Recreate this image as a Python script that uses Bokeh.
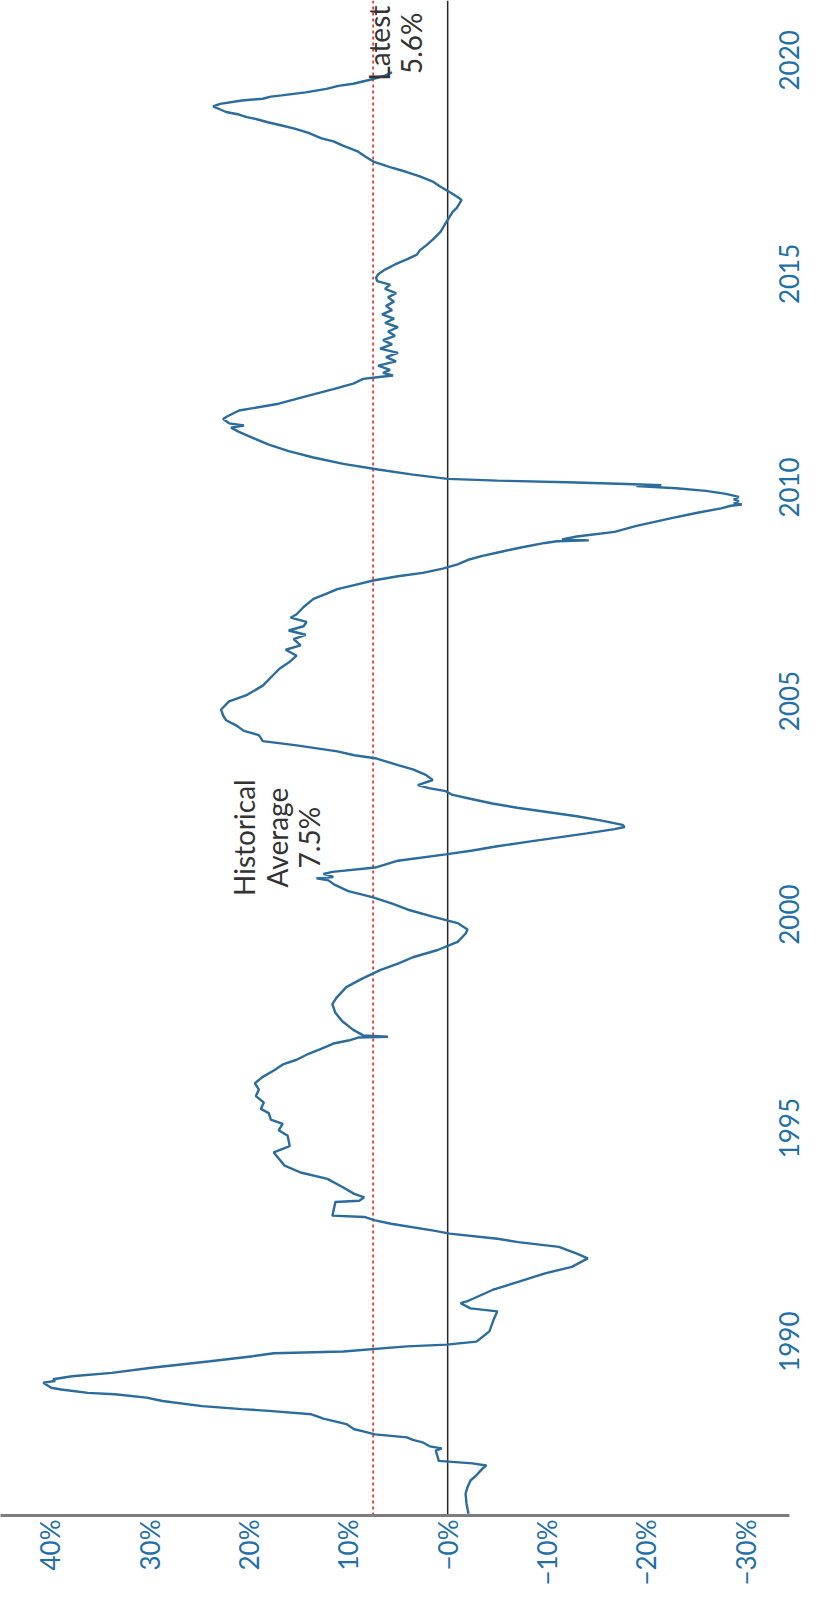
import math
from bokeh.plotting import figure
from bokeh.models import Range1d, Span, FixedTicker
from bokeh.core.properties import value
from bokeh.embed import file_html
from bokeh.resources import INLINE

# ---- data (decimal year, % value) ----
years = [
    1985.97, 1986.20, 1986.44, 1986.60, 1986.75, 1986.85, 1986.95, 1987.05, 1987.10, 1987.15,
    1987.21, 1987.30, 1987.45, 1987.50, 1987.55, 1987.64, 1987.70, 1987.76, 1987.83, 1987.90,
    1987.95, 1988.07, 1988.20, 1988.30, 1988.38, 1988.42, 1988.49, 1988.61, 1988.69, 1988.77,
    1988.80, 1988.88, 1988.92, 1989.04, 1989.08, 1989.12, 1989.19, 1989.27, 1989.39, 1989.54,
    1989.66, 1989.73, 1989.77, 1989.89, 1989.93, 1990.00, 1990.24, 1990.50, 1990.71, 1990.78,
    1990.90, 1990.95, 1991.01, 1991.21, 1991.40, 1991.60, 1991.75, 1991.95, 1992.06, 1992.22,
    1992.33, 1992.41, 1992.53, 1992.60, 1992.76, 1992.84, 1992.92, 1992.95, 1993.27, 1993.30,
    1993.38, 1993.46, 1993.61, 1993.81, 1993.96, 1994.12, 1994.43, 1994.58, 1994.82,
    1994.95, 1995.10, 1995.20, 1995.35, 1995.45, 1995.60, 1995.75, 1995.90, 1996.05, 1996.20,
    1996.35, 1996.50, 1996.60, 1996.74, 1996.85, 1996.98, 1997.05, 1997.12, 1997.14, 1997.17,
    1997.30, 1997.50, 1997.70, 1997.90, 1998.05, 1998.30, 1998.50, 1998.70, 1998.85, 1999.00,
    1999.17, 1999.36, 1999.55, 1999.65, 1999.80, 1999.95, 2000.10, 2000.25, 2000.40, 2000.55,
    2000.70, 2000.80, 2000.85, 2000.88, 2000.95, 2001.00, 2001.10, 2001.26, 2001.41,
    2001.50, 2001.60, 2001.70, 2001.80, 2001.90, 2002.00, 2002.05, 2002.10, 2002.20, 2002.30,
    2002.40, 2002.50, 2002.60, 2002.70, 2002.80, 2002.89, 2002.96, 2003.03, 2003.15, 2003.27,
    2003.40, 2003.50, 2003.66, 2003.73, 2003.82, 2003.96, 2004.06, 2004.20, 2004.30, 2004.43,
    2004.55, 2004.66, 2004.80, 2004.99, 2005.13, 2005.36, 2005.55, 2005.76, 2005.90, 2006.06,
    2006.20, 2006.30, 2006.45, 2006.55, 2006.65, 2006.75, 2006.85, 2006.95, 2007.03, 2007.20,
    2007.39, 2007.50, 2007.62,
    2007.72, 2007.82, 2007.92, 2008.00, 2008.10, 2008.20, 2008.30, 2008.39, 2008.50, 2008.60,
    2008.70, 2008.74, 2008.76, 2008.78, 2008.85, 2008.96, 2009.10, 2009.27, 2009.40, 2009.51,
    2009.57, 2009.60, 2009.63, 2009.68, 2009.72, 2009.78, 2009.85, 2009.92, 2009.98, 2010.03,
    2010.05, 2010.08, 2010.12, 2010.16, 2010.20, 2010.30, 2010.42, 2010.55, 2010.70, 2010.85,
    2011.00, 2011.15, 2011.30, 2011.40, 2011.45, 2011.50, 2011.60, 2011.66, 2011.80, 2011.96,
    2012.16, 2012.30, 2012.43, 2012.54, 2012.58,
    2012.62, 2012.68, 2012.75, 2012.85, 2012.95, 2013.05, 2013.15, 2013.25, 2013.35, 2013.45,
    2013.55, 2013.65, 2013.75, 2013.85, 2013.95, 2014.05, 2014.15, 2014.25, 2014.35, 2014.45,
    2014.55, 2014.65, 2014.75, 2014.83, 2014.91,
    2014.99, 2015.10, 2015.22, 2015.35, 2015.45, 2015.55, 2015.68, 2015.80, 2015.99, 2016.15,
    2016.30, 2016.45, 2016.54, 2016.65, 2016.73, 2016.80, 2016.93, 2017.05, 2017.16, 2017.28,
    2017.39, 2017.50, 2017.62, 2017.75, 2017.86, 2018.01, 2018.10, 2018.17, 2018.30, 2018.40,
    2018.48, 2018.55, 2018.62, 2018.67, 2018.73, 2018.79, 2018.86, 2018.92, 2018.98, 2019.06,
    2019.10, 2019.15, 2019.18, 2019.25, 2019.33, 2019.40, 2019.45, 2019.55, 2019.64, 2019.72,
]
values = [
    -2.1, -1.9, -1.8, -2.0, -2.3, -2.8, -3.2, -3.6, -3.9, -2.5,
    0.9, 1.0, 1.2, 0.6, 1.8, 2.5, 3.5, 4.1, 7.3, 8.5,
    9.4, 10.2, 12.5, 13.7, 18.0, 20.7, 24.7, 28.7, 30.3, 33.5,
    36.2, 38.9, 39.9, 40.7, 39.5, 39.7, 37.8, 33.8, 29.8, 23.9,
    19.6, 17.5, 10.5, 4.1, 0.1, -2.9, -4.2, -4.6, -5.0, -2.3,
    -1.3, -2.0, -2.6, -4.5, -7.1, -9.8, -12.5, -14.1, -13.0, -11.2,
    -7.1, -5.0, -0.2, 1.4, 5.7, 7.3, 8.4, 11.6, 11.3, 8.9,
    8.4, 9.4, 10.5, 12.1, 14.8, 16.4, 17.5, 15.9, 16.1,
    17.0, 16.6, 17.8, 18.0, 18.8, 18.5, 19.3, 19.0, 19.4, 18.6,
    17.5, 16.5, 15.2, 14.0, 12.8, 11.5, 10.0, 9.0, 6.0, 8.5,
    9.5, 10.6, 11.3, 11.6, 11.2, 10.2, 8.6, 6.8, 5.0, 3.5,
    1.0, -1.0, -1.8, -2.0, -1.0, 1.5, 3.8, 5.5, 7.5, 10.0,
    11.4, 12.0, 13.2, 11.5, 12.5, 11.6, 7.3, 5.0, 0.2,
    -2.5, -5.0, -8.0, -11.0, -14.0, -16.8, -17.8, -17.6, -15.5, -13.0,
    -10.0, -7.0, -4.5, -2.5, -0.5, 0.2, 1.9, 3.0, 1.5, 2.2,
    3.5, 5.0, 7.3, 9.4, 11.1, 15.2, 18.6, 19.0, 20.5, 21.3,
    22.3, 22.6, 22.8, 22.0, 20.3, 18.6, 17.8, 16.9, 16.0, 15.2,
    16.3, 14.8, 15.5, 14.3, 16.0, 14.5, 14.2, 15.8, 15.2, 14.5,
    13.5, 12.3, 11.1,
    9.3, 7.5, 5.0, 2.5, 0.5, -1.0, -2.0, -3.4, -5.5, -7.5,
    -9.8, -11.0, -14.2, -11.5, -13.0, -16.8, -19.0, -22.3, -25.0, -27.5,
    -28.5, -29.6, -28.8, -29.3, -28.8, -29.3, -28.0, -26.0, -23.0, -19.0,
    -21.5, -18.0, -12.0, -5.0, 0.0, 3.5, 7.0, 10.5, 13.5, 16.0,
    18.0, 19.5, 21.0, 21.8, 20.5, 22.0, 22.6, 22.2, 21.0, 17.0,
    13.8, 11.5, 9.5, 8.5, 7.1,
    5.5, 6.5, 5.8, 7.0, 5.2, 6.2, 5.0, 6.8, 5.6, 6.5,
    5.3, 6.0, 5.0, 6.3, 5.4, 6.6, 5.6, 6.2, 5.4, 6.0,
    5.2, 6.3, 5.8, 7.1, 7.2,
    7.0, 6.3, 5.3, 4.0, 3.1, 2.8, 2.1, 1.5, 0.7, 0.3,
    -0.1, -0.5, -0.9, -1.2, -1.4, -1.0, -0.1, 0.8, 1.5, 2.8,
    4.2, 5.8, 7.4, 8.3, 9.0, 10.6, 11.5, 12.7, 14.0, 15.4,
    16.8, 18.1, 19.2, 20.2, 21.0, 22.3, 23.0, 23.6, 22.9, 20.7,
    18.6, 17.8, 16.7, 14.3, 12.2, 11.0, 9.5, 7.7, 6.3, 5.6,
]

pct_ticks = [40, 30, 20, 10, 0, -10, -20, -30]
pct_labels = ["40%", "30%", "20%", "10%", "\u22120%", "\u221210%", "\u221220%", "\u221230%"]
year_ticks = [1990, 1995, 2000, 2005, 2010, 2015, 2020]
year_labels = ["1990", "1995", "2000", "2005", "2010", "2015", "2020"]

historical_average = 7.5
latest_value = 5.6

# ---- layout / style ----
FONT = "Lato"
BLUE_LABEL = "#1f6fa8"
TICK_FS = 26
W, H = 812, 1588
Y0, Y1 = 1985.93, 2021.40
X0, X1 = 45.0, -34.4

# Bokeh starts right-axis labels rotated by +90deg at the tick; move the
# anchor down by half a label length so each year label is centred on its year.
approx_frame_h = H - 75
px_per_year = approx_frame_h / (Y1 - Y0)
label_shift_years = 0.5 * 4 * 0.58 * TICK_FS / px_per_year

p = figure(
    width=W, height=H,
    x_range=Range1d(X0, X1), y_range=Range1d(Y0, Y1),
    y_axis_location="right",
    output_backend="svg", toolbar_location=None,
    min_border_left=0, min_border_top=0, min_border_right=0, min_border_bottom=0,
    background_fill_color="white", border_fill_color="white",
    outline_line_color=None,
)
p.xgrid.visible = False
p.ygrid.visible = False

xa = p.xaxis[0]
xa.ticker = FixedTicker(ticks=pct_ticks)
xa.major_label_overrides = {t: l for t, l in zip(pct_ticks, pct_labels)}
xa.major_label_orientation = math.pi / 2
xa.major_label_text_font = FONT
xa.major_label_text_font_size = f"{TICK_FS}px"
xa.major_label_text_color = BLUE_LABEL
xa.major_label_standoff = 4
xa.axis_line_color = "#7d7d7d"
xa.axis_line_width = 3
xa.major_tick_line_color = None
xa.minor_tick_line_color = None
xa.major_tick_out = 0
xa.major_tick_in = 0
xa.minor_tick_out = 0

shifted_year_ticks = [t - label_shift_years for t in year_ticks]
ya = p.yaxis[0]
ya.ticker = FixedTicker(ticks=shifted_year_ticks)
ya.major_label_overrides = {t: l for t, l in zip(shifted_year_ticks, year_labels)}
ya.major_label_orientation = math.pi / 2
ya.major_label_text_font = FONT
ya.major_label_text_font_size = f"{TICK_FS}px"
ya.major_label_text_color = BLUE_LABEL
ya.major_label_standoff = 0
ya.axis_line_color = None
ya.major_tick_line_color = None
ya.minor_tick_line_color = None
ya.major_tick_out = 0
ya.major_tick_in = 0
ya.minor_tick_out = 0

p.add_layout(Span(location=0, dimension="height", line_color="#262626",
                  line_width=1.5, level="underlay"))
p.add_layout(Span(location=historical_average, dimension="height", line_color="#e23b33",
                  line_width=1.8, line_dash="3 3", level="underlay"))

p.line(values, years, line_color="#2b6c9d", line_width=2.4)

p.text(x=[17.2], y=[2001.8],
       text=[f"Historical\nAverage\n{historical_average}%"],
       angle=math.pi / 2, text_align="center", text_baseline="middle",
       text_font=value(FONT), text_font_size="28px", text_color="#333333",
       text_line_height=0.95)
p.text(x=[5.3], y=[2020.4],
       text=[f"Latest\n{latest_value}%"],
       angle=math.pi / 2, text_align="center", text_baseline="middle",
       text_font=value(FONT), text_font_size="28px", text_color="#333333",
       text_line_height=0.95)

open("out.html", "w").write(file_html(p, INLINE))
